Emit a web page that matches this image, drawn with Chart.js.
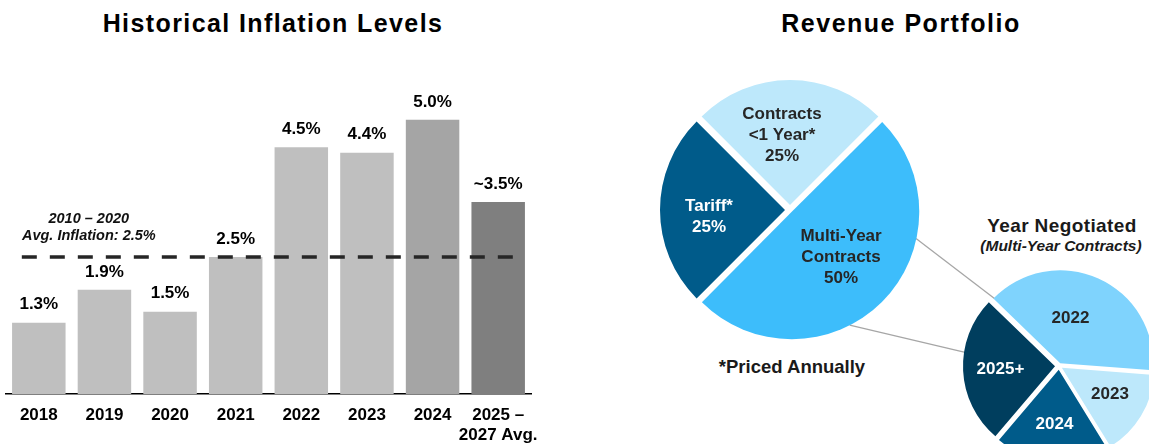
<!DOCTYPE html>
<html>
<head>
<meta charset="utf-8">
<script src="https://cdn.jsdelivr.net/npm/chart.js@4.4.1/dist/chart.umd.min.js"></script>
<style>
  html, body { margin: 0; padding: 0; background: #fff; overflow: hidden; width: 1149px; height: 444px; }
  body { position: relative; font-family: "Liberation Sans", Arial, sans-serif; }
  canvas { position: absolute; }
  .txt { position: absolute; white-space: nowrap; text-align: center; font-weight: bold; color: #000; line-height: 1; }
</style>
</head>
<body>
<div class="txt" style="left:73px; width:400px; top:11px; font-size:25px; letter-spacing:1.4px;">Historical Inflation Levels</div>
<div class="txt" style="left:701px; width:400px; top:11px; font-size:25px; letter-spacing:1.5px;">Revenue Portfolio</div>
<div class="txt" style="left:692px; width:200px; top:358px; font-size:18.5px; color:#1a1a1a;">*Priced Annually</div>
<div class="txt" style="left:962px; width:200px; top:215.5px; font-size:19px; letter-spacing:0.4px; color:#1a1a1a;">Year Negotiated</div>
<div class="txt" style="left:961px; width:200px; top:238px; font-size:15.5px; font-style:italic; color:#1a1a1a;">(Multi-Year Contracts)</div>

<canvas id="links" width="1149" height="444" style="left:0; top:0; z-index:0;"></canvas>
<canvas id="inflation" width="540" height="444" style="left:0; top:0; z-index:1;"></canvas>
<canvas id="portfolio" width="280" height="280" style="left:650px; top:70px; z-index:1;"></canvas>
<canvas id="negotiated" width="200" height="200" style="left:959px; top:266px; z-index:1;"></canvas>

<script>
// ---- Historical inflation (bar chart) ----
const inflationYears = ['2018', '2019', '2020', '2021', '2022', '2023', '2024', ['2025 –', '2027 Avg.']];
const inflationRates = [1.3, 1.9, 1.5, 2.5, 4.5, 4.4, 5.0, 3.5];
const rateLabelPrefix = ['', '', '', '', '', '', '', '~'];
const historicalAvgRate = 2.5;
const historicalAvgPeriod = '2010 – 2020';

// ---- Revenue portfolio (pie) ----
const portfolioSegments = [['Multi-Year', 'Contracts'], ['Tariff*'], ['Contracts', '<1 Year*']];
const portfolioShares = [50, 25, 25];

// ---- Year negotiated for multi-year contracts (pie) ----
const negotiatedYears = ['2022', '2023', '2024', '2025+'];
const negotiatedShares = [39, 15, 20, 26];

const FONT = '"Liberation Sans", Arial, sans-serif';

const barColors = ['#bfbfbf', '#bfbfbf', '#bfbfbf', '#bfbfbf', '#bfbfbf', '#bfbfbf', '#a5a5a5', '#7f7f7f'];

// Value labels, the dashed long-run average line and its note
const inflationDecor = {
  id: 'inflationDecor',
  afterDatasetsDraw(chart) {
    const { ctx, scales: { y } } = chart;
    const bars = chart.getDatasetMeta(0).data;
    const first = bars[0], last = bars[bars.length - 1];
    const yAvg = y.getPixelForValue(historicalAvgRate);
    ctx.save();
    ctx.strokeStyle = '#262626';
    ctx.lineWidth = 3.5;
    ctx.setLineDash([15, 13]);
    ctx.beginPath();
    ctx.moveTo(first.x - 17, yAvg);
    ctx.lineTo(last.x + 16, yAvg);
    ctx.stroke();
    ctx.setLineDash([]);

    ctx.fillStyle = '#000';
    ctx.textAlign = 'center';
    ctx.textBaseline = 'middle';
    ctx.font = `bold 17px ${FONT}`;
    bars.forEach((bar, i) => {
      ctx.fillText(rateLabelPrefix[i] + inflationRates[i].toFixed(1) + '%', bar.x, bar.y - 18);
    });

    ctx.fillStyle = '#111';
    ctx.font = `italic bold 14.5px ${FONT}`;
    const note = [historicalAvgPeriod, `Avg. Inflation: ${historicalAvgRate.toFixed(1)}%`];
    note.forEach((t, i) => ctx.fillText(t, first.x + 50, yAvg - 38 + i * 17));
    ctx.restore();
  }
};

new Chart(document.getElementById('inflation'), {
  type: 'bar',
  data: {
    labels: inflationYears,
    datasets: [{
      data: inflationRates,
      backgroundColor: barColors,
      borderWidth: 0,
      categoryPercentage: 1,
      barPercentage: 0.815
    }]
  },
  options: {
    responsive: false,
    animation: false,
    events: [],
    devicePixelRatio: 1,
    layout: { padding: { left: 6, right: 9, top: 65, bottom: 0 } },
    plugins: { legend: { display: false }, tooltip: { enabled: false } },
    scales: {
      x: {
        grid: { display: false, drawTicks: false, tickLength: 0 },
        border: { display: true, color: '#000', width: 1.5 },
        ticks: {
          color: '#000',
          font: { family: FONT, size: 17, weight: 'bold', lineHeight: 1.2 },
          padding: 11,
          maxRotation: 0,
          autoSkip: false
        },
        afterFit(scale) {
          scale.height = 50;
          // labels may overhang the plot edges; keep the plot full width
          scale.paddingLeft = 0;
          scale.paddingRight = 0;
        }
      },
      y: { display: false, min: 0, max: 6 }
    }
  },
  plugins: [inflationDecor]
});

// Exploded slices: choose the arc offset so every slice moves out by the same gap
function sliceOffset(gap) {
  return (ctx) => {
    if (ctx.dataIndex === undefined) return 0;
    const vals = ctx.dataset.data;
    const total = vals.reduce((a, b) => a + b, 0);
    const circ = 2 * Math.PI * vals[ctx.dataIndex] / total;
    const fix = 1 - Math.sin(Math.min(Math.PI, circ));
    return 4 * gap / (1 + fix);
  };
}

function sliceLabels(cfg) {
  return {
    id: 'sliceLabels',
    afterDatasetsDraw(chart) {
      const ctx = chart.ctx;
      chart.getDatasetMeta(0).data.forEach((arc, i) => {
        const mid = (arc.startAngle + arc.endAngle) / 2;
        const [dx, dy] = cfg.nudge[i] || [0, 0];
        const x = arc.x + Math.cos(mid) * cfg.radius + dx;
        const y = arc.y + Math.sin(mid) * cfg.radius + dy;
        const lines = cfg.lines(i);
        ctx.save();
        ctx.font = `bold 17px ${FONT}`;
        ctx.fillStyle = cfg.colors[i];
        ctx.textAlign = 'center';
        ctx.textBaseline = 'middle';
        lines.forEach((t, k) => ctx.fillText(t, x, y + (k - (lines.length - 1) / 2) * 21));
        ctx.restore();
      });
    }
  };
}

const PORTFOLIO_GAP = 5;
const portfolioChart = new Chart(document.getElementById('portfolio'), {
  type: 'pie',
  data: {
    labels: portfolioSegments.map(s => s.join(' ')),
    datasets: [{
      data: portfolioShares,
      backgroundColor: ['#3dbdfb', '#005b8a', '#bde8fb'],
      borderWidth: 0,
      offset: sliceOffset(PORTFOLIO_GAP)
    }]
  },
  options: {
    responsive: false,
    animation: false,
    events: [],
    devicePixelRatio: 1,
    radius: 125,
    rotation: 45,
    layout: { padding: 0 },
    plugins: { legend: { display: false }, tooltip: { enabled: false } }
  },
  plugins: [sliceLabels({
    radius: 75,
    nudge: [[-2, -6], [-6, 7], [-8, 0]],
    colors: ['#262626', '#ffffff', '#262626'],
    lines: i => [...portfolioSegments[i], portfolioShares[i] + '%']
  })]
});

const NEGOTIATED_GAP = 4;
const negotiatedChart = new Chart(document.getElementById('negotiated'), {
  type: 'pie',
  data: {
    labels: negotiatedYears,
    datasets: [{
      data: negotiatedShares,
      backgroundColor: ['#7fd3fd', '#bde8fb', '#005b8a', '#003e5e'],
      borderWidth: 0,
      offset: sliceOffset(NEGOTIATED_GAP)
    }]
  },
  options: {
    responsive: false,
    animation: false,
    events: [],
    devicePixelRatio: 1,
    radius: 92,
    rotation: -46,
    layout: { padding: 0 },
    plugins: { legend: { display: false }, tooltip: { enabled: false } }
  },
  plugins: [sliceLabels({
    radius: 58.6,
    nudge: [[-12.6, 5.7], [1, -2], [0, 0], [0, 0]],
    colors: ['#262626', '#262626', '#ffffff', '#ffffff'],
    lines: i => [negotiatedYears[i]]
  })]
});

// Leader lines from the multi-year slice to the breakdown pie
function edgePoint(chart, index, deg, gap) {
  const arc = chart.getDatasetMeta(0).data[index];
  const mid = (arc.startAngle + arc.endAngle) / 2;
  const a = deg * Math.PI / 180;
  const el = chart.canvas;
  return [
    el.offsetLeft + arc.x + Math.cos(mid) * gap + Math.cos(a) * arc.outerRadius,
    el.offsetTop + arc.y + Math.sin(mid) * gap + Math.sin(a) * arc.outerRadius
  ];
}
const links = [
  [edgePoint(portfolioChart, 0, 11.5, PORTFOLIO_GAP), edgePoint(negotiatedChart, 0, 224, NEGOTIATED_GAP)],
  [edgePoint(portfolioChart, 0, 63.3, PORTFOLIO_GAP), edgePoint(negotiatedChart, 3, 188.8, NEGOTIATED_GAP)]
];
const lctx = document.getElementById('links').getContext('2d');
lctx.strokeStyle = '#a6a6a6';
lctx.lineWidth = 1.3;
links.forEach(([p, q]) => {
  lctx.beginPath();
  lctx.moveTo(p[0], p[1]);
  lctx.lineTo(q[0], q[1]);
  lctx.stroke();
});
</script>
</body>
</html>
